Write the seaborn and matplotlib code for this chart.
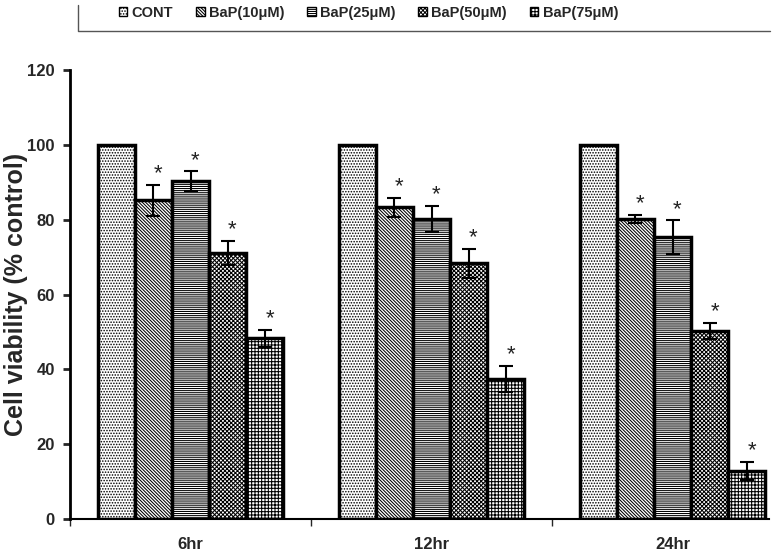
import matplotlib
matplotlib.use('Agg')
import matplotlib.pyplot as plt
from matplotlib.patches import Patch
from matplotlib.lines import Line2D
import numpy as np
import pandas as pd
import seaborn as sns

# Data
times = ['6hr', '12hr', '24hr']
groups = ['CONT', 'BaP(10μM)', 'BaP(25μM)', 'BaP(50μM)', 'BaP(75μM)']
cont = [100, 100, 100]
bap10 = [85.2, 83.3, 80.2]
bap25 = [90.3, 80.2, 75.3]
bap50 = [71.2, 68.3, 50.2]
bap75 = [48.3, 37.5, 12.8]
err_cont = [0, 0, 0]
err10 = [4.2, 2.5, 1.0]
err25 = [2.6, 3.5, 4.5]
err50 = [3.2, 4.0, 2.2]
err75 = [2.3, 3.5, 2.4]
significant = [False, True, True, True, True]

values = [cont, bap10, bap25, bap50, bap75]
errors = [err_cont, err10, err25, err50, err75]
hatches = ['.' * 6, '\\' * 10, '-' * 8, 'x' * 8, '+' * 5]

df = pd.DataFrame({
    'time': times * len(groups),
    'group': np.repeat(groups, len(times)),
    'value': np.concatenate(values),
})

sns.set_style('white')
plt.rcParams['font.family'] = ['Liberation Sans', 'DejaVu Sans']
plt.rcParams['hatch.linewidth'] = 0.75
plt.rcParams['hatch.color'] = '#222222'

fig = plt.figure(figsize=(7.75, 5.57), dpi=100)
ax = fig.add_axes([0.0903, 0.0682, 0.902, 0.806])

sns.barplot(data=df, x='time', y='value', hue='group', order=times,
            hue_order=groups, palette=['white'] * 5, edgecolor='black',
            linewidth=2.5, width=0.77, errorbar=None, legend=False, ax=ax)

bar_containers = list(ax.containers)
for i, cont_bars in enumerate(bar_containers):
    xs = []
    for bar in cont_bars:
        bar.set_hatch(hatches[i])
        bar.set_facecolor('white')
        xs.append(bar.get_x() + bar.get_width() / 2)
    if i == 0:
        continue
    ax.errorbar(xs, values[i], yerr=errors[i], fmt='none', ecolor='black',
                elinewidth=1.5, capsize=5, capthick=1.5, zorder=5)
    if significant[i]:
        for x, v, e in zip(xs, values[i], errors[i]):
            ax.text(x + 0.02, v + e + 3.0, '*', ha='center', va='center',
                    fontsize=16, color='#222222', zorder=6)

ax.set_ylim(0, 120)
ax.set_yticks(range(0, 121, 20))
ax.set_xlim(-0.5, 2.4)
ax.set_xticks(range(len(times)))
ax.set_xticklabels(times)
ax.set_xticks([-0.5, 0.5, 1.5], minor=True)
ax.tick_params(axis='x', which='major', length=0, pad=13, labelsize=12)
ax.tick_params(axis='x', which='minor', length=5, width=1, direction='out', bottom=True)
ax.tick_params(axis='y', length=5, width=2, direction='out', left=True, pad=6, labelsize=12)
for lab in ax.get_xticklabels() + ax.get_yticklabels():
    lab.set_fontweight('bold')

ax.set_xlabel('')
ax.set_ylabel('Cell viability (% control)', fontsize=18, fontweight='bold')
ax.yaxis.set_label_coords(-0.06, 0.5)

sns.despine(ax=ax)
ax.spines['left'].set_linewidth(2)
ax.spines['bottom'].set_linewidth(1.5)
ax.spines['left'].set_color('black')
ax.spines['bottom'].set_color('black')

handles = [Patch(facecolor='white', edgecolor='black', hatch=h, linewidth=1) for h in hatches]
fig.legend(handles, groups, loc='center left', bbox_to_anchor=(0.153, 1 - 13 / 557),
           ncol=5, frameon=False, handlelength=0.6, handleheight=0.6,
           handletextpad=0.3, columnspacing=1.55, borderaxespad=0, borderpad=0,
           prop={'weight': 'bold', 'size': 10.5})
# cropped legend frame: left and bottom edges only
fig.add_artist(Line2D([78 / 775, 78 / 775, 770 / 775],
                      [1 - 5 / 557, 1 - 31 / 557, 1 - 31 / 557],
                      color='#555555', linewidth=1))

fig.savefig('out.png', dpi=100)
